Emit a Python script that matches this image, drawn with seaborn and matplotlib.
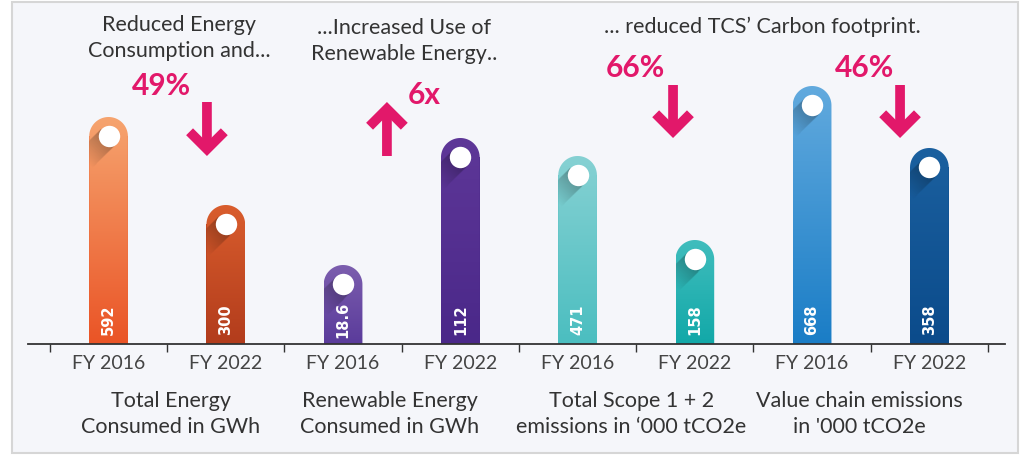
import numpy as np
import pandas as pd
import matplotlib
matplotlib.use('Agg')
import matplotlib.pyplot as plt
import seaborn as sns
from matplotlib.path import Path
from matplotlib.patches import PathPatch, Rectangle
from matplotlib.colors import to_rgb

# --- data ---
years = ['FY 2016', 'FY 2022'] * 4
value_labels = ['592', '300', '18.6', '112', '471', '158', '668', '358']
# pin heights as drawn (the infographic is not to scale), px above the axis
pin_heights = [227, 139, 79, 206, 188, 104, 258, 196]
top_colors = ['#f6a46f', '#d95d2d', '#7c5eae', '#5e3798', '#86d1d3', '#40bdbd', '#62aade', '#1b609f']
bottom_colors = ['#ea5426', '#b23c1c', '#5a3b9b', '#4a2889', '#4bbec0', '#12a8a8', '#1a7dc6', '#0b4b8b']
group_labels = ['Total Energy\nConsumed in GWh', 'Renewable Energy\nConsumed in GWh',
                'Total Scope 1 + 2\nemissions in \u2018000 tCO2e', 'Value chain emissions\nin \'000 tCO2e']
headings = ['Reduced Energy\nConsumption and...', '...Increased Use of\nRenewable Energy..',
            '... reduced TCS\u2019 Carbon footprint.']
changes = ['49%', '6x', '66%', '46%']
change_up = [False, True, False, False]

PINK = '#e2186a'
TEXT = '#333333'

sns.set_theme(style='white')
plt.rcParams['font.family'] = ['Lato', 'DejaVu Sans']

W, H = 1025, 456
fig = plt.figure(figsize=(W / 100, H / 100), dpi=100)
fig.patch.set_facecolor('white')
fig.add_artist(Rectangle((12 / W, 2 / H), 1006 / W, 451 / H, transform=fig.transFigure,
                         facecolor='#f5f6fa', edgecolor='#d6d6d6', lw=1.5, zorder=0))

ax = fig.add_axes([28 / W, 111 / H, 977 / W, 345 / H])
ax.set_facecolor('none')
XLIM = (-0.687, 7.645)
YLIM = (0, 345)
bar_w = 0.33
px_x = 977 / (XLIM[1] - XLIM[0])
px_y = 345 / (YLIM[1] - YLIM[0])
r = bar_w / 2 * px_x / px_y  # cap radius in y data units

slots = [f's{i}' for i in range(8)]
df = pd.DataFrame({'slot': slots,
                   'body': [h - r for h in pin_heights],
                   'year': years})
sns.barplot(data=df, x='slot', y='body', hue='slot', palette=dict(zip(slots, bottom_colors)),
            width=bar_w, saturation=1, linewidth=0, legend=False, ax=ax)

bars = sorted(ax.patches, key=lambda p: p.get_x())
rc = 10.7  # white dot radius, px
for i, p in enumerate(bars):
    x0, w, h = p.get_x(), p.get_width(), p.get_height()
    x1, xc = x0 + w, x0 + w / 2
    t = np.linspace(0, np.pi, 60)
    verts = [(x0, 0), (x1, 0), (x1, h)] + list(zip(xc + w / 2 * np.cos(t), h + r * np.sin(t))) + [(x0, h), (x0, 0)]
    codes = [Path.MOVETO] + [Path.LINETO] * (len(verts) - 2) + [Path.CLOSEPOLY]
    pin = PathPatch(Path(verts, codes), transform=ax.transData, facecolor='none', edgecolor='none')

    g = np.linspace(0, 1, 256)[:, None, None]
    img = (1 - g) * np.array(to_rgb(bottom_colors[i])) + g * np.array(to_rgb(top_colors[i]))
    im = ax.imshow(img, extent=(x0, x1, 0, h + r), origin='lower', aspect='auto',
                   interpolation='bilinear', zorder=2)
    im.set_clip_path(pin)

    # long shadow of the dot, fading towards lower left
    nx, ny = int(w * px_x) * 2, int((h + r) * px_y) * 2
    gx = (np.linspace(x0, x1, nx) - xc) * px_x
    gy = (np.linspace(0, h + r, ny) - h) * px_y
    dx, dy = np.meshgrid(gx, gy)
    u = (-dx - dy) / np.sqrt(2)      # distance along the shadow direction
    v = (dx - dy) / np.sqrt(2)       # distance across it
    a = np.where((np.abs(v) <= rc) & (u >= 0), 0.32 * np.clip(1 - u / 34, 0, 1), 0)
    shade = np.zeros((ny, nx, 4))
    shade[..., 3] = a
    sh = ax.imshow(shade, extent=(x0, x1, 0, h + r), origin='lower', aspect='auto',
                   interpolation='bilinear', zorder=3)
    sh.set_clip_path(pin)

    ax.scatter([xc], [h], s=(2 * rc * 0.72) ** 2, color='white', linewidths=0, zorder=4)
    ax.text(xc, 25, value_labels[i], rotation=90, ha='center', va='center', color='white',
            fontsize=10.5, family='DejaVu Sans', fontweight='bold', zorder=5)

# axis styling
ax.set_xlim(*XLIM)
ax.set_ylim(*YLIM)
ax.set_xlabel('')
ax.set_ylabel('')
ax.set_yticks([])
ax.set_xticks(range(8))
ax.set_xticklabels(years, fontsize=14, color='#444444')
ax.set_xticks(np.arange(-0.5, 8), minor=True)
ax.tick_params(axis='x', which='major', length=0, pad=7)
ax.tick_params(axis='x', which='minor', length=6, width=1, color=TEXT, direction='out', bottom=True)
for s in ['left', 'top', 'right']:
    ax.spines[s].set_visible(False)
ax.spines['bottom'].set_color(TEXT)
ax.spines['bottom'].set_linewidth(1.3)

# group captions under the axis
for x, lab in zip([0.53, 2.40, 4.46, 6.40], group_labels):
    ax.text(x, -69, lab, ha='center', va='center', fontsize=15.5, color=TEXT,
            linespacing=1.35, clip_on=False)

# headings
for (x, y), lab in zip([(0.60, 307), (2.52, 304), (5.58, 318)], headings):
    ax.text(x, y, lab, ha='center', va='center', fontsize=15.5, color=TEXT,
            linespacing=1.35, clip_on=False)

# change callouts and arrows
for (x, y), lab in zip([(0.447, 259), (2.69, 250), (4.494, 277), (6.45, 277)], changes):
    ax.text(x, y, lab, ha='center', va='center', fontsize=21.5, fontweight='bold',
            color=PINK, clip_on=False)
for (x, ya, yb), up in zip([(0.839, 242, 188), (2.374, 188, 242), (4.814, 259, 206), (6.75, 259, 206)],
                           change_up):
    ax.annotate('', xy=(x, yb), xytext=(x, ya),
                arrowprops=dict(arrowstyle='->,head_length=1.25,head_width=1.25', lw=7,
                                color=PINK, shrinkA=0, shrinkB=0, mutation_scale=10,
                                joinstyle='miter', capstyle='butt'))

fig.savefig('out.png', dpi=100)
